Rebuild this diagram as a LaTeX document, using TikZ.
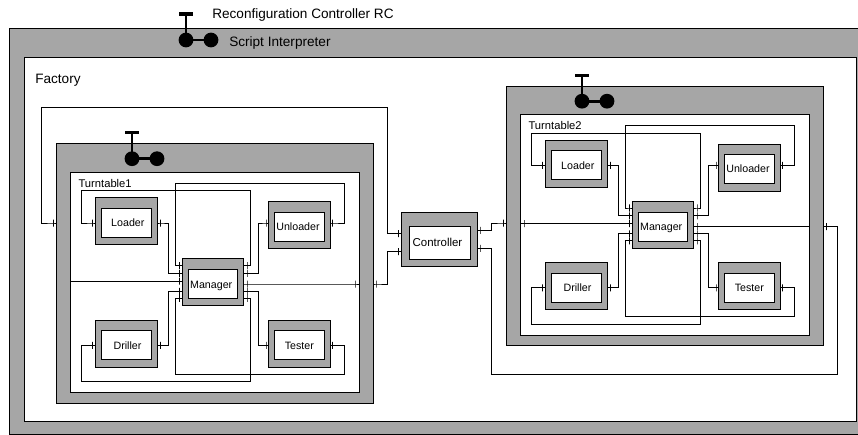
\documentclass[tikz,border=0pt]{standalone}
\usepackage{fontspec}
\setmainfont{Liberation Sans}
\usetikzlibrary{calc}

\definecolor{bandgray}{HTML}{A6A6A6}

\tikzset{
  wh/.style 2 args={minimum width=#1*0.75pt, minimum height=#2*0.75pt},
  band/.style={draw, fill=bandgray, inner sep=0pt, line width=0.6pt},
  pane/.style={draw, fill=white, inner sep=0pt, line width=0.6pt},
  partbox/.style={band, wh={61.3}{47}},
  parttext/.style={pane, wh={49.3}{29}, text height=5.8pt, text depth=0pt, font=\fontsize{8}{9}\selectfont},
  tick/.style={draw, inner sep=0pt, wh={0}{7}, line width=0.6pt},
  wire/.style={line width=0.6pt},
  title/.style={anchor=west, inner sep=0pt, text height=7.3pt, text depth=0pt, font=\fontsize{10.2}{12}\selectfont},
  rcicon/.pic={
    \draw[line width=2.4pt] (-7,0) -- (7,0);
    \draw[line width=2.2pt] (0,0) -- (0,26) -- (25,26);
    \fill (0,26) circle (7.4);
    \fill (25,26) circle (7.4);
  }
}

\begin{document}
\begin{tikzpicture}[x=0.75pt, y=-0.75pt]

  % Page frame
  \useasboundingbox (0,0) rectangle (858,435);

  % Factory frame
  \node[band, wh={848.3}{406}] (rc) at (433.85,231.5) {};
  \node[pane, wh={832}{364}] (factory) at (440,239) {};
  \pic at (186,14) {rcicon};
  \node[title] (rclabel) at (212,14) {Reconfiguration Controller RC};
  \node[title] (scriptlabel) at (229,42) {Script Interpreter};
  \node[title] (factorylabel) at (35,78.5) {Factory};

  % Controller in the middle
  \node[band, wh={76}{54}] (ctrl) at (439.7,239.3) {};
  \node[pane, wh={61}{32.3}, text height=6.2pt, text depth=0pt, font=\fontsize{8.6}{10}\selectfont] (ctrltext) at (439.8,242.8) {\hspace*{-3.5pt}Controller};
  \foreach \n/\x/\y in {c-w1/398.5/233.5, c-w2/398.5/251.7, c-e1/480/230.3, c-e2/480/248.3}
    \node[tick] (\n) at (\x,\y) {};

  % The two turntables: same layout, second one is shifted
  \foreach \t/\dx/\dy/\lbl in {t1/0/0/Turntable1, t2/450/-57.5/Turntable2} {
    \begin{scope}[shift={(\dx,\dy)}]

      % Frames
      \node[band, wh={316.5}{259.5}] (\t) at (214.75,273.25) {};
      \node[pane, wh={288.3}{220.4}] (\t-inner) at (214.85,282.5) {};
      \pic at (132,132.7) {rcicon};
      \node[title, text height=6pt, font=\fontsize{8.4}{10}\selectfont] (\t-label) at (78.3,183) {\lbl};

      % Parts
      \foreach \n/\x/\y/\yt/\s/\o in {loader/126.5/221.2/222.8/Loader/2pt, unloader/299.3/225/226.6/Unloader/-2pt,
                                      driller/126.5/343.5/345.2/Driller/1.5pt, tester/299.3/343.5/345.2/Tester/0pt,
                                      mgr/213.2/282.2/284.2/Manager/-3pt} {
        \node[partbox] (\t-\n) at (\x,\y) {};
        \node[parttext] (\t-\n-text) at (\x,\yt) {\hspace*{\o}\s};
      }

      % Ports
      \foreach \n/\x/\y in {lw/92.7/223, le/160.7/223, uw/266/223, ue/332.3/223,
                            dw/92.7/345.3, de/160.7/345.3, tw/266/345.3, te/332.3/345.3,
                            ml1/179.3/265.5, ml2/179.3/273.3, ml3/179.3/281, ml4/179.3/291.3, ml5/179.3/298.3,
                            mr1/247/265.5, mr2/247/273.3, mr3/247/284, mr4/247/291.3, mr5/247/298.3}
        \node[tick] (\t-\n) at (\x,\y) {};

      % Wires inside the turntable
      \draw[wire] (\t-loader.west |- \t-lw.center) -- (\t-lw.center) -| (81.7,190.7) -| (250.7,265.5)
        -- (\t-mr1.center) -- (\t-mgr.east |- \t-mr1.center);
      \draw[wire] (\t-loader.east |- \t-le.center) -- (\t-le.center) -| (168.3,273.3)
        -- (\t-ml2.center) -- (\t-mgr.west |- \t-ml2.center);
      \draw[wire] (\t-unloader.west |- \t-uw.center) -- (\t-uw.center) -| (258.3,273.3)
        -- (\t-mr2.center) -- (\t-mgr.east |- \t-mr2.center);
      \draw[wire] (\t-unloader.east |- \t-ue.center) -- (\t-ue.center) -| (344.3,183.3) -| (175,265.5)
        -- (\t-ml1.center) -- (\t-mgr.west |- \t-ml1.center);
      \draw[wire] (\t-driller.west |- \t-dw.center) -- (\t-dw.center) -| (81.7,381.7) -| (250.7,298.3)
        -- (\t-mr5.center) -- (\t-mgr.east |- \t-mr5.center);
      \draw[wire] (\t-driller.east |- \t-de.center) -- (\t-de.center) -| (168.3,291.3)
        -- (\t-ml4.center) -- (\t-mgr.west |- \t-ml4.center);
      \draw[wire] (\t-tester.west |- \t-tw.center) -- (\t-tw.center) -| (258.3,291.3)
        -- (\t-mr4.center) -- (\t-mgr.east |- \t-mr4.center);
      \draw[wire] (\t-tester.east |- \t-te.center) -- (\t-te.center) -| (344.3,374.3) -| (175,298.3)
        -- (\t-ml5.center) -- (\t-mgr.west |- \t-ml5.center);
    \end{scope}
  }

  % Ports on the turntable frames
  \foreach \n/\x/\y in {t1-out-l/53.3/223, t1-in-r/355/284, t1-out-r/376/284,
                        t2-out-l/503.3/223, t2-in-l/524/223.5, t2-out-r/826.7/226.5}
    \node[tick] (\n) at (\x,\y) {};

  % Turntable1 to controller
  \draw[wire] (t1-mgr.west |- t1-ml3.center) -- (t1-inner.west |- t1-ml3.center);
  \draw[wire] (t1-mgr.east |- t1-in-r.center) -- (t1-in-r.center) -- (t1-inner.east |- t1-in-r.center);
  \draw[wire] (t1.west |- t1-out-l.center) -- (t1-out-l.center) -| (41.7,107.3) -| (387.7,233.5)
    -- (c-w1.center) -- (ctrl.west |- c-w1.center);
  \draw[wire] (t1.east |- t1-out-r.center) -- (t1-out-r.center) -| (387.7,251.7)
    -- (c-w2.center) -- (ctrl.west |- c-w2.center);

  % Turntable2 to controller
  \draw[wire] (t2-mgr.west |- t2-in-l.center) -- (t2-in-l.center) -- (t2-inner.west |- t2-in-l.center);
  \draw[wire] (t2-mgr.east |- t2-out-r.center) -- (t2-inner.east |- t2-out-r.center);
  \draw[wire] (t2.west |- t2-out-l.center) -- (t2-out-l.center) -| (491.7,230.3)
    -- (c-e1.center) -- (ctrl.east |- c-e1.center);
  \draw[wire] (t2.east |- t2-out-r.center) -- (t2-out-r.center) -| (837.7,374) -| (491.7,248.3)
    -- (c-e2.center) -- (ctrl.east |- c-e2.center);

\end{tikzpicture}
\end{document}
